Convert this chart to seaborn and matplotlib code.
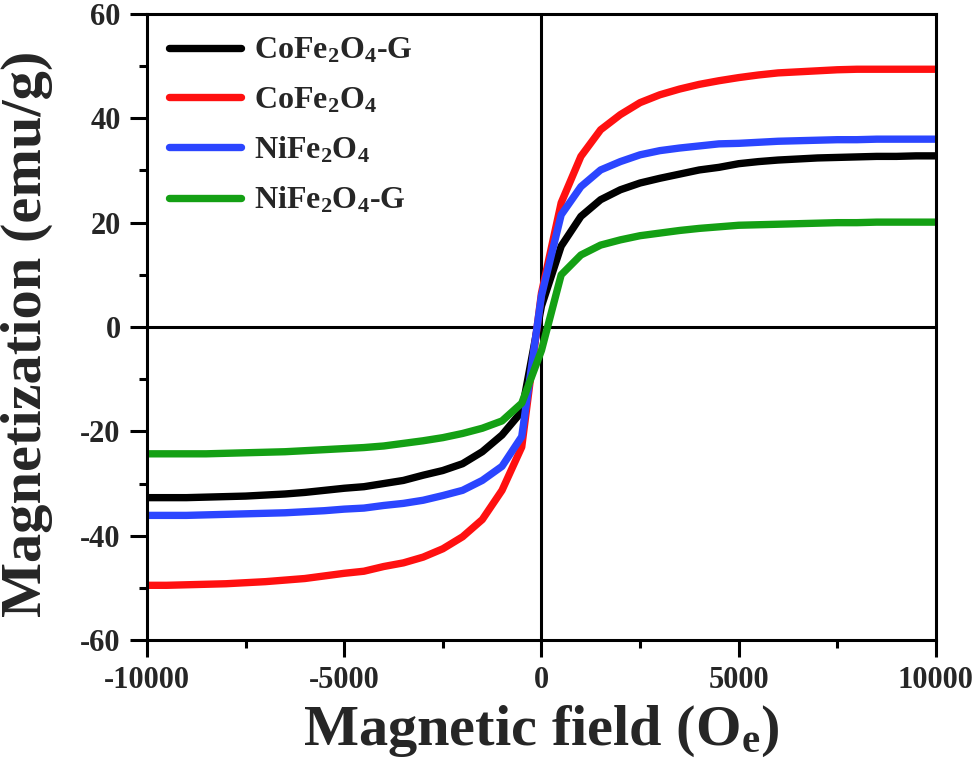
import numpy as np
import pandas as pd
import seaborn as sns
import matplotlib.pyplot as plt
from matplotlib.ticker import MultipleLocator

# magnetic field, Oe (sampled every 500 Oe)
field = np.arange(-10000, 10001, 500)

cofe2o4_g = [-32.7, -32.7, -32.7, -32.6, -32.5, -32.4, -32.2, -32.0, -31.7, -31.3,
             -30.9, -30.6, -30.0, -29.4, -28.4, -27.5, -26.2, -23.9, -20.7, -16.2,
             4.0, 15.5, 21.2, 24.4, 26.3, 27.6, 28.5, 29.3, 30.1, 30.6,
             31.3, 31.7, 32.0, 32.2, 32.4, 32.5, 32.6, 32.7, 32.7, 32.8, 32.8]
cofe2o4 = [-49.5, -49.5, -49.4, -49.3, -49.2, -49.0, -48.8, -48.5, -48.2, -47.7,
           -47.2, -46.8, -45.9, -45.2, -44.1, -42.5, -40.2, -36.9, -31.3, -23.0,
           6.5, 23.8, 32.7, 37.8, 40.7, 43.0, 44.5, 45.6, 46.5, 47.2,
           47.8, 48.3, 48.7, 48.9, 49.1, 49.3, 49.4, 49.4, 49.4, 49.4, 49.4]
nife2o4 = [-36.1, -36.1, -36.1, -36.0, -35.9, -35.8, -35.7, -35.6, -35.4, -35.2,
           -34.9, -34.7, -34.2, -33.8, -33.2, -32.3, -31.3, -29.4, -26.7, -21.0,
           6.0, 21.5, 26.9, 30.1, 31.7, 33.0, 33.8, 34.3, 34.7, 35.1,
           35.2, 35.4, 35.6, 35.7, 35.8, 35.9, 35.9, 36.0, 36.0, 36.0, 36.0]
nife2o4_g = [-24.3, -24.3, -24.3, -24.3, -24.2, -24.1, -24.0, -23.9, -23.7, -23.5,
             -23.3, -23.1, -22.8, -22.3, -21.8, -21.2, -20.4, -19.4, -18.0, -14.6,
             -4.5, 10.0, 13.8, 15.7, 16.7, 17.5, 18.0, 18.5, 18.9, 19.2,
             19.5, 19.6, 19.7, 19.8, 19.9, 20.0, 20.0, 20.1, 20.1, 20.1, 20.1]

labels = [r"CoFe$_2$O$_4$-G", r"CoFe$_2$O$_4$", r"NiFe$_2$O$_4$", r"NiFe$_2$O$_4$-G"]
colors = ["#000000", "#ff1010", "#2b45ff", "#14a014"]

sns.set_style("ticks")
plt.rcParams["font.family"] = ["Liberation Serif", "DejaVu Serif"]
plt.rcParams["font.weight"] = "bold"
plt.rcParams["axes.labelweight"] = "bold"
plt.rcParams["axes.unicode_minus"] = False
plt.rcParams["mathtext.fontset"] = "custom"
plt.rcParams["mathtext.rm"] = "Liberation Serif:bold"
plt.rcParams["mathtext.it"] = "Liberation Serif:bold"
plt.rcParams["mathtext.bf"] = "Liberation Serif:bold"
plt.rcParams["mathtext.default"] = "rm"

fig = plt.figure(figsize=(9.8, 7.74), dpi=100)
ax = fig.add_axes([0.150, 0.173, 0.805, 0.809])

ax.axhline(0, color="black", lw=2.2, zorder=1)
ax.axvline(0, color="black", lw=2.2, zorder=1)

for ys, lab, c in zip([cofe2o4_g, cofe2o4, nife2o4, nife2o4_g], labels, colors):
    sns.lineplot(x=field, y=ys, color=c, lw=5.3, label=lab, ax=ax, sort=False)

ax.set_xlim(-10000, 10000)
ax.set_ylim(-60, 60)
ax.xaxis.set_major_locator(MultipleLocator(5000))
ax.xaxis.set_minor_locator(MultipleLocator(2500))
ax.yaxis.set_major_locator(MultipleLocator(20))
ax.yaxis.set_minor_locator(MultipleLocator(10))
ax.tick_params(which="major", direction="out", length=12, width=2.2,
               labelsize=22, pad=7, color="black")
ax.tick_params(which="minor", direction="out", length=6, width=2.2, color="black")
for s in ax.spines.values():
    s.set_linewidth(2.2)
    s.set_color("black")
    s.set_visible(True)

ax.set_xlabel(r"Magnetic field (O$_e$)", fontsize=42, fontweight="bold", labelpad=6)
ax.set_ylabel("Magnetization (emu/g)", fontsize=42, fontweight="bold")
ax.yaxis.set_label_coords(-0.119, 0.489)

leg = ax.legend(loc="upper left", frameon=False, fontsize=23, handlelength=2.25,
                handletextpad=0.4, labelspacing=0.62, borderaxespad=0.3)
for h in leg.get_lines():
    h.set_linewidth(5.3)

plt.savefig("out.png", dpi=100)
